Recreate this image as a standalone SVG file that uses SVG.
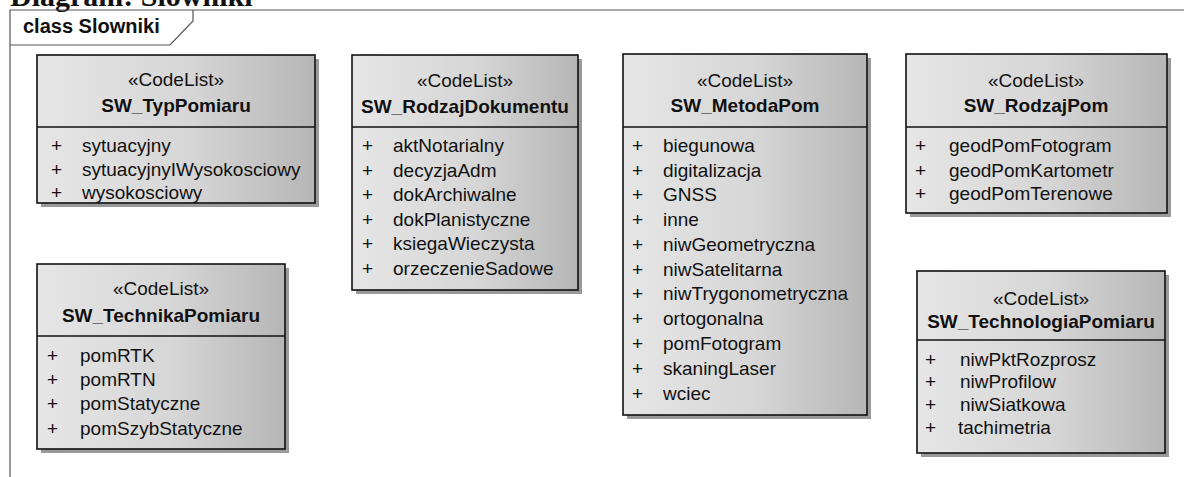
<svg xmlns="http://www.w3.org/2000/svg" width="1184" height="477" viewBox="0 0 1184 477">
<defs>
<linearGradient id="fill" x1="0" y1="0" x2="1" y2="0">
<stop offset="0" stop-color="#e6e6e6"/>
<stop offset="0.55" stop-color="#d6d6d6"/>
<stop offset="1" stop-color="#b6b6b6"/>
</linearGradient>
</defs>
<style>
.frame{fill:none;stroke:#555;stroke-width:1.2}
.shadow{fill:#9a9a9a}
.box{fill:url(#fill);stroke:#111;stroke-width:1.6}
.div{stroke:#111;stroke-width:1.6}
text{font-family:"Liberation Sans",Arial,sans-serif;font-size:19px;fill:#111}
.st{text-anchor:middle}
.nm{text-anchor:middle;font-weight:bold}
.title{font-family:"Liberation Serif","Times New Roman",serif;font-weight:bold;font-size:30px}
.tab{font-weight:bold;font-size:20px}
</style>
<text class="title" x="10" y="6">Diagram: Slowniki</text>
<g id="frame">
<path class="frame" d="M10,477 V10 H1184"/>
<path class="frame" d="M10,45 H170 L193,21 V10"/>
<text class="tab" x="23" y="33">class Slowniki</text>
</g>
<g id="connectors"></g>

<g id="SW_TypPomiaru">
<rect class="shadow" x="41" y="59" width="278" height="148"/>
<rect class="box" x="37" y="55" width="278" height="148"/>
<line class="div" x1="37" y1="127" x2="315" y2="127"/>
<text class="st" x="176" y="86">«CodeList»</text>
<text class="nm" x="176" y="112">SW_TypPomiaru</text>
<text x="51" y="152">+</text><text x="82" y="152">sytuacyjny</text>
<text x="51" y="176">+</text><text x="82" y="176">sytuacyjnyIWysokosciowy</text>
<text x="51" y="199">+</text><text x="82" y="199">wysokosciowy</text>
</g>

<g id="SW_TechnikaPomiaru">
<rect class="shadow" x="41" y="268" width="248" height="185"/>
<rect class="box" x="37" y="264" width="248" height="185"/>
<line class="div" x1="37" y1="336" x2="285" y2="336"/>
<text class="st" x="161" y="295">«CodeList»</text>
<text class="nm" x="161" y="322">SW_TechnikaPomiaru</text>
<text x="47" y="362">+</text><text x="80" y="362">pomRTK</text>
<text x="47" y="386">+</text><text x="80" y="386">pomRTN</text>
<text x="47" y="410">+</text><text x="80" y="410">pomStatyczne</text>
<text x="47" y="435">+</text><text x="80" y="435">pomSzybStatyczne</text>
</g>

<g id="SW_RodzajDokumentu">
<rect class="shadow" x="356" y="59" width="226" height="235"/>
<rect class="box" x="352" y="55" width="226" height="235"/>
<line class="div" x1="352" y1="127" x2="578" y2="127"/>
<text class="st" x="465" y="87">«CodeList»</text>
<text class="nm" x="465" y="113">SW_RodzajDokumentu</text>
<text x="362" y="152">+</text><text x="393" y="152">aktNotarialny</text>
<text x="362" y="177">+</text><text x="393" y="177">decyzjaAdm</text>
<text x="362" y="201">+</text><text x="393" y="201">dokArchiwalne</text>
<text x="362" y="226">+</text><text x="393" y="226">dokPlanistyczne</text>
<text x="362" y="250">+</text><text x="393" y="250">ksiegaWieczysta</text>
<text x="362" y="275">+</text><text x="393" y="275">orzeczenieSadowe</text>
</g>

<g id="SW_MetodaPom">
<rect class="shadow" x="627" y="58" width="244" height="361"/>
<rect class="box" x="623" y="54" width="244" height="361"/>
<line class="div" x1="623" y1="127" x2="867" y2="127"/>
<text class="st" x="745" y="87">«CodeList»</text>
<text class="nm" x="745" y="112">SW_MetodaPom</text>
<text x="632" y="152">+</text><text x="663" y="152">biegunowa</text>
<text x="632" y="177">+</text><text x="663" y="177">digitalizacja</text>
<text x="632" y="201">+</text><text x="663" y="201">GNSS</text>
<text x="632" y="226">+</text><text x="663" y="226">inne</text>
<text x="632" y="251">+</text><text x="663" y="251">niwGeometryczna</text>
<text x="632" y="276">+</text><text x="663" y="276">niwSatelitarna</text>
<text x="632" y="300">+</text><text x="663" y="300">niwTrygonometryczna</text>
<text x="632" y="325">+</text><text x="663" y="325">ortogonalna</text>
<text x="632" y="350">+</text><text x="663" y="350">pomFotogram</text>
<text x="632" y="375">+</text><text x="663" y="375">skaningLaser</text>
<text x="632" y="400">+</text><text x="663" y="400">wciec</text>
</g>

<g id="SW_RodzajPom">
<rect class="shadow" x="910" y="58" width="261" height="159"/>
<rect class="box" x="906" y="54" width="261" height="159"/>
<line class="div" x1="906" y1="127" x2="1167" y2="127"/>
<text class="st" x="1036" y="87">«CodeList»</text>
<text class="nm" x="1036" y="112">SW_RodzajPom</text>
<text x="915" y="152">+</text><text x="949" y="152">geodPomFotogram</text>
<text x="915" y="177">+</text><text x="949" y="177">geodPomKartometr</text>
<text x="915" y="200">+</text><text x="949" y="200">geodPomTerenowe</text>
</g>

<g id="SW_TechnologiaPomiaru">
<rect class="shadow" x="921" y="275" width="248" height="182"/>
<rect class="box" x="917" y="271" width="248" height="182"/>
<line class="div" x1="917" y1="340" x2="1165" y2="340"/>
<text class="st" x="1041" y="305">«CodeList»</text>
<text class="nm" x="1041" y="328">SW_TechnologiaPomiaru</text>
<text x="925" y="366">+</text><text x="960" y="366">niwPktRozprosz</text>
<text x="925" y="388">+</text><text x="960" y="388">niwProfilow</text>
<text x="925" y="411">+</text><text x="960" y="411">niwSiatkowa</text>
<text x="925" y="434">+</text><text x="958" y="434">tachimetria</text>
</g>
</svg>
